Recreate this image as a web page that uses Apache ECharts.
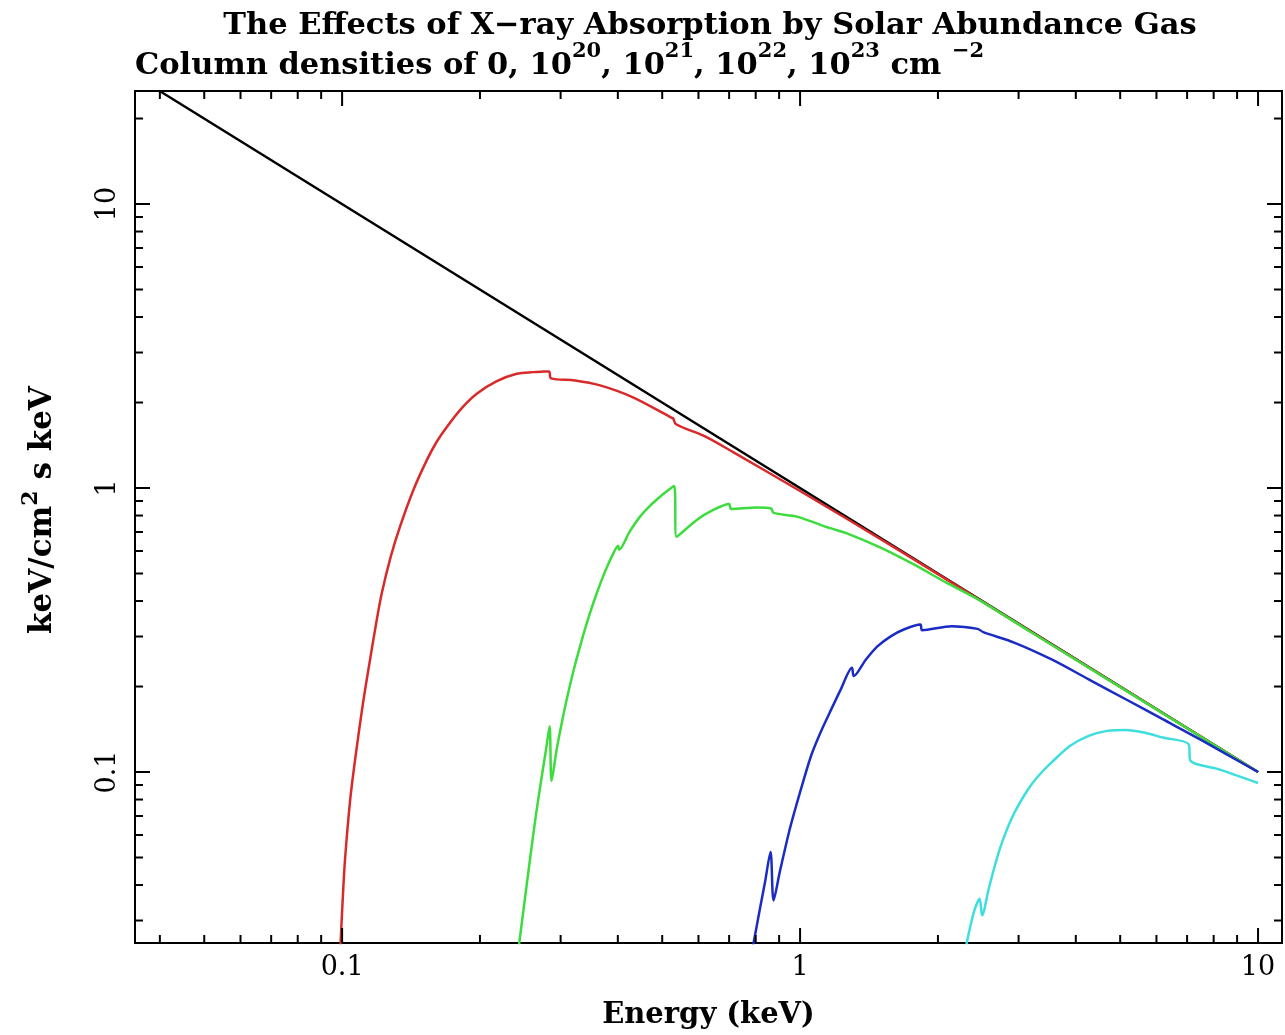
<!DOCTYPE html>
<html>
<head>
<meta charset="utf-8">
<script src="https://cdn.jsdelivr.net/npm/echarts@6/dist/echarts.min.js"></script>
<style>
  html, body { margin: 0; padding: 0; background: #fff; }
  #chart { width: 1285px; height: 1035px; }
</style>
</head>
<body>
<div id="chart"></div>
<script>
const FONT = '"DejaVu Serif", serif';

// Axis extents: energy in keV, flux in keV/cm^2 s keV
const energyRange = [0.0353, 11.28];
const fluxRange = [0.025, 25];

// Tick values (log axes, ticks at 1..9 of each decade)
const xMajorTicks = [0.1, 1, 10];
const xMinorTicks = [0.04, 0.05, 0.06, 0.07, 0.08, 0.09,
                     0.2, 0.3, 0.4, 0.5, 0.6, 0.7, 0.8, 0.9,
                     2, 3, 4, 5, 6, 7, 8, 9];
const yMajorTicks = [0.1, 1, 10];
const yMinorTicks = [0.03, 0.04, 0.05, 0.06, 0.07, 0.08, 0.09,
                     0.2, 0.3, 0.4, 0.5, 0.6, 0.7, 0.8, 0.9,
                     2, 3, 4, 5, 6, 7, 8, 9, 20];

// Spectra [energy keV, flux] for each column density
const nh0 = [[0.0398, 25.1], [10, 0.1]];

const nh1e20 = [
  [0.0991, 0.0239], [0.1004, 0.0367], [0.1015, 0.0495], [0.1041, 0.0793],
  [0.1068, 0.1111], [0.1109, 0.1718], [0.1151, 0.2491], [0.1186, 0.3321],
  [0.1221, 0.4271], [0.1278, 0.5760], [0.1338, 0.7313], [0.1431, 0.9840],
  [0.1531, 1.254], [0.1609, 1.455], [0.1693, 1.641], [0.1825, 1.912],
  [0.1968, 2.149], [0.2177, 2.378], [0.2406, 2.526], [0.2613, 2.559],
  [0.2750, 2.570], [0.2831, 2.574], [0.2860, 2.432], [0.3227, 2.393],
  [0.3660, 2.298], [0.4317, 2.086], [0.5250, 1.766], [0.5281, 1.761],
  [0.5361, 1.677], [0.6200, 1.520], [0.7142, 1.338], [1.0, 0.976],
  [1.653, 0.601], [2.733, 0.364], [10, 0.1]
];

const nh1e21 = [
  [0.2428, 0.0239], [0.2573, 0.0495], [0.2652, 0.0712], [0.2730, 0.0970],
  [0.2789, 0.1204], [0.2838, 0.1450], [0.2867, 0.0930], [0.2942, 0.1204],
  [0.3018, 0.1491], [0.3094, 0.1804], [0.3199, 0.2264], [0.3309, 0.2774],
  [0.3450, 0.3489], [0.3599, 0.4270], [0.3752, 0.5087], [0.3913, 0.5901],
  [0.4006, 0.6258], [0.4026, 0.6060], [0.4242, 0.7008], [0.4473, 0.7929],
  [0.4706, 0.8671], [0.4947, 0.9322], [0.5124, 0.9760], [0.5307, 1.016],
  [0.5374, 0.6731], [0.5948, 0.7722], [0.6465, 0.8372], [0.6997, 0.8788],
  [0.7068, 0.8439], [0.8045, 0.8542], [0.8643, 0.8473], [0.8753, 0.8171],
  [0.9835, 0.7932], [1.163, 0.7222], [1.265, 0.6924], [1.495, 0.6183],
  [1.768, 0.5391], [2.091, 0.4631], [2.472, 0.4014], [3.178, 0.3124],
  [10, 0.1]
];

const nh1e22 = [
  [0.7876, 0.0239], [0.7926, 0.0253], [0.8149, 0.0322], [0.8387, 0.0411],
  [0.8619, 0.0523], [0.8753, 0.0353], [0.9030, 0.0445], [0.9457, 0.0614],
  [0.9725, 0.0726], [1.0, 0.0849], [1.057, 0.1141], [1.1076, 0.1375],
  [1.161, 0.162], [1.2272, 0.1955], [1.298, 0.233], [1.310, 0.2177],
  [1.3915, 0.2485], [1.477, 0.2774], [1.5774, 0.3004], [1.684, 0.3175],
  [1.831, 0.3307], [1.847, 0.3157], [2.144, 0.3262], [2.443, 0.3192],
  [2.512, 0.3107], [2.942, 0.2851], [3.542, 0.2491], [4.267, 0.212],
  [5.141, 0.1804], [6.19, 0.1535], [7.457, 0.1305], [10, 0.1]
];

const nh1e23 = [
  [2.298, 0.0239], [2.397, 0.0322], [2.466, 0.0358], [2.497, 0.0313],
  [2.583, 0.0389], [2.6557, 0.0461], [2.731, 0.0537], [2.834, 0.0632],
  [2.942, 0.0722], [3.0826, 0.0825], [3.228, 0.092], [3.3819, 0.1004],
  [3.542, 0.1081], [3.888, 0.1237], [4.267, 0.1341], [4.683, 0.1396],
  [5.141, 0.1407], [5.641, 0.1378], [6.19, 0.1323], [7.053, 0.1254],
  [7.12, 0.1096], [8.182, 0.1024], [10, 0.0915]
];

// Frame tick marks on all four sides: [x, y, side(0 bottom,1 top,2 left,3 right), major]
const tickData = [];
function addXTicks(vals, major) {
  vals.forEach(v => {
    tickData.push([v, fluxRange[0], 0, major]);
    tickData.push([v, fluxRange[1], 1, major]);
  });
}
function addYTicks(vals, major) {
  vals.forEach(v => {
    tickData.push([energyRange[0], v, 2, major]);
    tickData.push([energyRange[1], v, 3, major]);
  });
}
addXTicks(xMajorTicks, 1); addXTicks(xMinorTicks, 0);
addYTicks(yMajorTicks, 1); addYTicks(yMinorTicks, 0);

function spectrum(name, data, color, z) {
  return {
    name, type: 'line', data, z,
    smooth: 0.3,
    showSymbol: false, symbol: 'none', clip: true,
    lineStyle: { color, width: 2.5 },
    animation: false
  };
}

const supStyle = { fontFamily: FONT, fontSize: 21, fontWeight: 'bold', color: '#000', verticalAlign: 'top' };
const supStyleAxis = { fontFamily: FONT, fontSize: 22, fontWeight: 'bold', color: '#000', verticalAlign: 'top' };

const chart = echarts.init(document.getElementById('chart'), null, { renderer: 'canvas' });
chart.setOption({
  backgroundColor: '#fff',
  animation: false,
  title: [
    {
      text: 'The Effects of X\u2212ray Absorption by Solar Abundance Gas',
      left: 710, top: 11, textAlign: 'center', padding: 0,
      textStyle: { fontFamily: FONT, fontSize: 30.5, fontWeight: 'bold', color: '#000' }
    },
    {
      text: 'Column densities of 0, 10{s|20}, 10{s|21}, 10{s|22}, 10{s|23} cm {s|\u22122}',
      left: 135, top: 41, padding: 0,
      textStyle: {
        fontFamily: FONT, fontSize: 30.5, fontWeight: 'bold', color: '#000',
        lineHeight: 50,
        rich: { s: supStyle }
      }
    }
  ],
  grid: {
    left: 135, right: 3, top: 91, bottom: 90,
    show: true, borderColor: '#000', borderWidth: 2, backgroundColor: 'transparent'
  },
  xAxis: {
    type: 'log', logBase: 10, min: energyRange[0], max: energyRange[1],
    name: 'Energy (keV)', nameLocation: 'middle', nameGap: 58,
    nameTextStyle: { fontFamily: FONT, fontSize: 29, fontWeight: 'bold', color: '#000' },
    axisLine: { show: false }, axisTick: { show: false }, splitLine: { show: false },
    axisLabel: {
      fontFamily: FONT, fontSize: 27, color: '#000', margin: 11,
      showMinLabel: false, showMaxLabel: false,
      formatter: v => (xMajorTicks.includes(+v) ? String(v) : '')
    }
  },
  yAxis: {
    type: 'log', logBase: 10, min: fluxRange[0], max: fluxRange[1],
    name: 'keV/cm{s|2} s keV', nameLocation: 'middle', nameGap: 69,
    nameTextStyle: {
      fontFamily: FONT, fontSize: 31, fontWeight: 'bold', color: '#000', lineHeight: 46,
      padding: [0, 0, 0, 14],
      rich: { s: supStyleAxis }
    },
    axisLine: { show: false }, axisTick: { show: false }, splitLine: { show: false },
    axisLabel: {
      fontFamily: FONT, fontSize: 27, color: '#000', margin: 14, rotate: 90,
      showMinLabel: false, showMaxLabel: false,
      formatter: v => (yMajorTicks.includes(+v) ? String(v) : '')
    }
  },
  series: [
    spectrum('0', nh0, '#000000', 2),
    spectrum('1e20', nh1e20, '#d82a2a', 3),
    spectrum('1e21', nh1e21, '#3ddc3d', 4),
    spectrum('1e22', nh1e22, '#1a2cc4', 5),
    spectrum('1e23', nh1e23, '#3fdede', 6),
    {
      type: 'custom', data: tickData, encode: { x: 0, y: 1 }, clip: false, z: 10,
      silent: true, animation: false,
      renderItem(params, api) {
        const side = api.value(2);
        const len = api.value(3) ? 15 : 8;
        const p = api.coord([api.value(0), api.value(1)]);
        let x2 = p[0], y2 = p[1];
        if (side === 0) y2 -= len;
        else if (side === 1) y2 += len;
        else if (side === 2) x2 += len;
        else x2 -= len;
        return {
          type: 'line',
          shape: { x1: p[0], y1: p[1], x2, y2 },
          style: { stroke: '#000', lineWidth: 2 }
        };
      }
    }
  ]
});
</script>
</body>
</html>
